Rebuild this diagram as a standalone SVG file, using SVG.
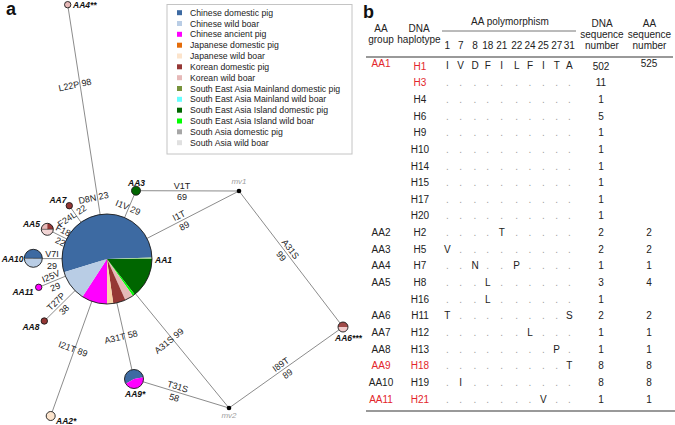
<svg xmlns="http://www.w3.org/2000/svg" width="675" height="425" viewBox="0 0 675 425">
<style>
text{font-family:"Liberation Sans",Arial,sans-serif}
.ml{font-size:9px;fill:#222;text-anchor:middle}
.nl{font-size:8.5px;font-weight:bold;font-style:italic;fill:#111}
.mv{font-size:8px;font-style:italic;fill:#a0a0a0}
.leg{font-size:8.7px;fill:#222}
.tb{font-size:10px;fill:#222;text-anchor:middle}
.red{fill:#E3262B}
.dot{fill:#a0a0a0}
.edge{stroke:#8c8c8c;stroke-width:1;fill:none}
.ol{fill:none;stroke:#1a1a1a;stroke-width:0.9}
.rule{stroke:#777;fill:none}
</style>
<rect width="675" height="425" fill="#fff"/>
<text x="6" y="14.5" style="font-size:18px;font-weight:bold;fill:#111">a</text>
<text x="363" y="18" style="font-size:18px;font-weight:bold;fill:#111">b</text>

<!-- Legend -->
<g id="legend">
<rect x="167" y="4.5" width="185" height="149.5" fill="#fff" stroke="#c4c4c4" stroke-width="1"/>
<rect x="177" y="10.2" width="5" height="5" fill="#3D6AA2"/><text class="leg" x="190" y="15.7">Chinese domestic pig</text>
<rect x="177" y="21" width="5" height="5" fill="#B9CDE5"/><text class="leg" x="190" y="26.5">Chinese wild boar</text>
<rect x="177" y="31.8" width="5" height="5" fill="#FF00FF"/><text class="leg" x="190" y="37.3">Chinese ancient pig</text>
<rect x="177" y="42.7" width="5" height="5" fill="#E46C0A"/><text class="leg" x="190" y="48.2">Japanese domestic pig</text>
<rect x="177" y="53.5" width="5" height="5" fill="#FCE4CC"/><text class="leg" x="190" y="59">Japanese wild boar</text>
<rect x="177" y="64.3" width="5" height="5" fill="#953735"/><text class="leg" x="190" y="69.8">Korean domestic pig</text>
<rect x="177" y="75.2" width="5" height="5" fill="#E6B9B8"/><text class="leg" x="190" y="80.7">Korean wild boar</text>
<rect x="177" y="86" width="5" height="5" fill="#77933C"/><text class="leg" x="190" y="91.5">South East Asia Mainland domestic pig</text>
<rect x="177" y="96.8" width="5" height="5" fill="#66FFFF"/><text class="leg" x="190" y="102.3">South East Asia Mainland wild boar</text>
<rect x="177" y="107.7" width="5" height="5" fill="#006600"/><text class="leg" x="190" y="113.2">South East Asia Island domestic pig</text>
<rect x="177" y="118.5" width="5" height="5" fill="#00FF00"/><text class="leg" x="190" y="124">South East Asia Island wild boar</text>
<rect x="177" y="129.3" width="5" height="5" fill="#A6A6A6"/><text class="leg" x="190" y="134.8">South Asia domestic pig</text>
<rect x="177" y="140.2" width="5" height="5" fill="#E0E0E0"/><text class="leg" x="190" y="145.7">South Asia wild boar</text>
</g>

<!-- Connectors -->
<g id="connectors">
<line class="edge" x1="67.7" y1="4.7" x2="107" y2="259"/>
<line class="edge" x1="69.3" y1="205.7" x2="107" y2="259"/>
<line class="edge" x1="136" y1="190.7" x2="107" y2="259"/>
<line class="edge" x1="136" y1="190.7" x2="239" y2="191"/>
<line class="edge" x1="107" y1="259" x2="239" y2="191"/>
<line class="edge" x1="239" y1="191" x2="343" y2="327"/>
<line class="edge" x1="47.3" y1="229.3" x2="107" y2="259"/>
<line class="edge" x1="33.3" y1="258.6" x2="107" y2="258.6"/>
<line class="edge" x1="38.7" y1="287.3" x2="107" y2="259"/>
<line class="edge" x1="44.3" y1="321" x2="107" y2="259"/>
<line class="edge" x1="50.7" y1="416" x2="107" y2="259"/>
<line class="edge" x1="134" y1="379" x2="107" y2="259"/>
<line class="edge" x1="107" y1="259" x2="229" y2="408"/>
<line class="edge" x1="134" y1="379" x2="229" y2="408"/>
<line class="edge" x1="229" y1="408" x2="343" y2="327"/>
<!-- mutation labels -->
<text class="ml" transform="translate(75,85) rotate(-12)" y="3">L22P 98</text>
<text class="ml" transform="translate(93.5,198) rotate(-12)" y="3">D8N 23</text>
<text class="ml" transform="translate(72,216) rotate(-34)" y="3">F24L 22</text>
<g transform="translate(63,236.5) rotate(26.6)"><text class="ml" y="-2.5">F18L</text><text class="ml" y="9">22</text></g>
<text class="ml" transform="translate(128,207.5) rotate(23)" y="3">I1V 29</text>
<g transform="translate(182,191)"><text class="ml" y="-2.5">V1T</text><text class="ml" y="9">69</text></g>
<g transform="translate(181.5,220.6) rotate(-27.3)"><text class="ml" y="-2.5">I1T</text><text class="ml" y="9">89</text></g>
<g transform="translate(286,252.5) rotate(52.6)"><text class="ml" y="-2.5">A31S</text><text class="ml" y="9">99</text></g>
<g transform="translate(52,258.6)"><text class="ml" y="-2">V7I</text><text class="ml" y="10.5">29</text></g>
<g transform="translate(53,281.4) rotate(-22.5)"><text class="ml" y="-2.5">I25V</text><text class="ml" y="9">29</text></g>
<g transform="translate(60,305.5) rotate(-44.7)"><text class="ml" y="-2.5">T27P</text><text class="ml" y="9">38</text></g>
<text class="ml" transform="translate(73,349) rotate(20)" y="3">I21T 89</text>
<text class="ml" transform="translate(121,337) rotate(-13)" y="3">A31T 58</text>
<text class="ml" transform="translate(169,341) rotate(-39)" y="3">A31S 99</text>
<g transform="translate(176,392) rotate(17)"><text class="ml" y="-2.5">T31S</text><text class="ml" y="9">58</text></g>
<g transform="translate(284,369) rotate(-35.4)"><text class="ml" y="-2.5">I89T</text><text class="ml" y="9">89</text></g>
</g>

<!-- Nodes -->
<g id="AA1">
<path d="M107,259 L63.97,272.16 A45,45 0 1 1 151.97,257.43 Z" fill="#3D6AA2"/>
<path d="M107,259 L151.97,257.43 A45,45 0 0 1 152,259 Z" fill="#9CD08C"/>
<path d="M107,259 L152,259 A45,45 0 0 1 134.71,294.46 Z" fill="#006600"/>
<path d="M107,259 L134.71,294.46 A45,45 0 0 1 132.81,295.86 Z" fill="#00FF00"/>
<path d="M107,259 L132.81,295.86 A45,45 0 0 1 125.30,300.11 Z" fill="#E6B9B8"/>
<path d="M107,259 L125.30,300.11 A45,45 0 0 1 113.26,303.56 Z" fill="#953735"/>
<path d="M107,259 L113.26,303.56 A45,45 0 0 1 107,304 Z" fill="#F9D3A8"/>
<path d="M107,259 L107,304 A45,45 0 0 1 82.49,296.74 Z" fill="#FF00FF"/>
<path d="M107,259 L82.49,296.74 A45,45 0 0 1 63.97,272.16 Z" fill="#B9CDE5"/>
<circle class="ol" cx="107" cy="259" r="45"/>
<text class="nl" x="155" y="263">AA1</text>
</g>
<g id="AA2">
<circle cx="50.7" cy="416" r="4.5" fill="#FCE4CC" stroke="#1a1a1a" stroke-width="0.9"/>
<text class="nl" x="56" y="424">AA2*</text>
</g>
<g id="AA3">
<circle cx="136" cy="190.7" r="4.5" fill="#006600" stroke="#1a1a1a" stroke-width="0.9"/>
<text class="nl" x="128" y="185.5">AA3</text>
</g>
<g id="AA4">
<circle cx="67.7" cy="4.7" r="3.2" fill="#E6B9B8" stroke="#1a1a1a" stroke-width="0.9"/>
<text class="nl" x="73" y="8">AA4**</text>
</g>
<g id="AA5">
<path d="M47.3,229.3 L41.3,229.3 A6,6 0 0 1 47.3,223.3 Z" fill="#E6B9B8"/>
<path d="M47.3,229.3 L47.3,223.3 A6,6 0 0 1 53.3,229.3 Z" fill="#953735"/>
<path d="M53.3,229.3 A6,6 0 0 1 41.3,229.3 Z" fill="#F2D5D5"/>
<line x1="41.3" y1="229.3" x2="53.3" y2="229.3" stroke="#1a1a1a" stroke-width="0.6"/>
<circle class="ol" cx="47.3" cy="229.3" r="6"/>
<text class="nl" x="40" y="227" text-anchor="end">AA5</text>
</g>
<g id="AA6">
<path d="M338,327 A5,5 0 0 1 348,327 Z" fill="#A04A48"/>
<path d="M348,327 A5,5 0 0 1 338,327 Z" fill="#F0CACA"/>
<circle class="ol" cx="343" cy="327" r="5"/>
<text class="nl" x="335" y="341">AA6***</text>
</g>
<g id="AA7">
<circle cx="69.3" cy="205.7" r="3.2" fill="#953735" stroke="#1a1a1a" stroke-width="0.9"/>
<text class="nl" x="66.5" y="203" text-anchor="end">AA7</text>
</g>
<g id="AA8">
<circle cx="44.3" cy="321" r="3.2" fill="#953735" stroke="#1a1a1a" stroke-width="0.9"/>
<text class="nl" x="39.5" y="330" text-anchor="end">AA8</text>
</g>
<g id="AA9">
<path d="M134,379 L125.77,383.75 A9.5,9.5 0 1 1 143.36,377.35 Z" fill="#3D6AA2"/>
<path d="M134,379 L143.36,377.35 A9.5,9.5 0 0 1 125.77,383.75 Z" fill="#FF00FF"/>
<circle class="ol" cx="134" cy="379" r="9.5"/>
<text class="nl" x="125" y="396.5">AA9*</text>
</g>
<g id="AA10">
<path d="M24.3,258.3 A9,9 0 0 1 42.3,258.3 Z" fill="#3D6AA2"/>
<path d="M42.3,258.3 A9,9 0 0 1 24.3,258.3 Z" fill="#B9CDE5"/>
<line x1="24.3" y1="258.3" x2="42.3" y2="258.3" stroke="#1a1a1a" stroke-width="0.6"/>
<circle class="ol" cx="33.3" cy="258.3" r="9"/>
<text class="nl" x="23.5" y="262" text-anchor="end">AA10</text>
</g>
<g id="AA11">
<circle cx="38.7" cy="287.3" r="3.2" fill="#FF00FF" stroke="#1a1a1a" stroke-width="0.9"/>
<text class="nl" x="33.5" y="295" text-anchor="end">AA11</text>
</g>
<g id="mv1">
<circle cx="239" cy="191" r="2.3" fill="#000"/>
<text class="mv" x="239" y="184" text-anchor="middle">mv1</text>
</g>
<g id="mv2">
<circle cx="229" cy="408" r="2.3" fill="#000"/>
<text class="mv" x="229" y="418" text-anchor="middle">mv2</text>
</g>

<!-- Table -->
<g id="table">
<line class="rule" x1="442" y1="31" x2="576" y2="31" stroke-width="1"/>
<line class="rule" x1="366" y1="57" x2="673" y2="57" stroke-width="1.3"/>
<line class="rule" x1="366" y1="411" x2="675" y2="411" stroke-width="1.5" stroke="#888"/>
<text class="tb" x="381" y="31.5">AA</text><text class="tb" x="381" y="42.5">group</text>
<text class="tb" x="419" y="31.5">DNA</text><text class="tb" x="419" y="42.5">haplotype</text>
<text class="tb" x="510" y="24.5">AA polymorphism</text>
<text class="tb" x="447.3" y="49">1</text><text class="tb" x="460.7" y="49">7</text><text class="tb" x="475" y="49">8</text><text class="tb" x="487.7" y="49">18</text><text class="tb" x="501.7" y="49">21</text><text class="tb" x="516.7" y="49">22</text><text class="tb" x="530" y="49">24</text><text class="tb" x="543.3" y="49">25</text><text class="tb" x="556.7" y="49">27</text><text class="tb" x="569.3" y="49">31</text>
<text class="tb" x="602" y="26.5">DNA</text><text class="tb" x="602" y="38">sequence</text><text class="tb" x="602" y="49">number</text>
<text class="tb" x="649.5" y="26.5">AA</text><text class="tb" x="649.5" y="38">sequence</text><text class="tb" x="649.5" y="49">number</text>

<!-- row 0 -->
<text class="tb red" x="381" y="66.7">AA1</text><text class="tb red" x="420" y="69.6">H1</text>
<text class="tb" x="447.3 460.7 475 487.7 501.7 516.7 530 543.3 556.7 569.3" y="69">IVDFILFITA</text>
<text class="tb" x="601" y="70">502</text><text class="tb" x="649" y="66.7">525</text>
<!-- rows 1-9 -->
<text class="tb red" x="420" y="86.2">H3</text><text class="tb dot" x="447.3 460.7 475 487.7 501.7 516.7 530 543.3 556.7 569.3" y="86.2">..........</text><text class="tb" x="601" y="86.2">11</text>
<text class="tb" x="420" y="102.9">H4</text><text class="tb dot" x="447.3 460.7 475 487.7 501.7 516.7 530 543.3 556.7 569.3" y="102.9">..........</text><text class="tb" x="601" y="102.9">1</text>
<text class="tb" x="420" y="119.5">H6</text><text class="tb dot" x="447.3 460.7 475 487.7 501.7 516.7 530 543.3 556.7 569.3" y="119.5">..........</text><text class="tb" x="601" y="119.5">5</text>
<text class="tb" x="420" y="136.2">H9</text><text class="tb dot" x="447.3 460.7 475 487.7 501.7 516.7 530 543.3 556.7 569.3" y="136.2">..........</text><text class="tb" x="601" y="136.2">1</text>
<text class="tb" x="420" y="152.8">H10</text><text class="tb dot" x="447.3 460.7 475 487.7 501.7 516.7 530 543.3 556.7 569.3" y="152.8">..........</text><text class="tb" x="601" y="152.8">1</text>
<text class="tb" x="420" y="169.5">H14</text><text class="tb dot" x="447.3 460.7 475 487.7 501.7 516.7 530 543.3 556.7 569.3" y="169.5">..........</text><text class="tb" x="601" y="169.5">1</text>
<text class="tb" x="420" y="186.1">H15</text><text class="tb dot" x="447.3 460.7 475 487.7 501.7 516.7 530 543.3 556.7 569.3" y="186.1">..........</text><text class="tb" x="601" y="186.1">1</text>
<text class="tb" x="420" y="202.8">H17</text><text class="tb dot" x="447.3 460.7 475 487.7 501.7 516.7 530 543.3 556.7 569.3" y="202.8">..........</text><text class="tb" x="601" y="202.8">1</text>
<text class="tb" x="420" y="219.4">H20</text><text class="tb dot" x="447.3 460.7 475 487.7 501.7 516.7 530 543.3 556.7 569.3" y="219.4">..........</text><text class="tb" x="601" y="219.4">1</text>
<!-- row 10 AA2 -->
<text class="tb" x="381" y="236.1">AA2</text><text class="tb" x="420" y="236.1">H2</text>
<text class="tb dot" x="447.3 460.7 475 487.7" y="236.1">....</text><text class="tb" x="501.7" y="236.1">T</text><text class="tb dot" x="516.7 530 543.3 556.7 569.3" y="236.1">.....</text>
<text class="tb" x="601" y="236.1">2</text><text class="tb" x="649" y="236.1">2</text>
<!-- row 11 AA3 -->
<text class="tb" x="381" y="252.7">AA3</text><text class="tb" x="420" y="252.7">H5</text>
<text class="tb" x="447.3" y="252.7">V</text><text class="tb dot" x="460.7 475 487.7 501.7 516.7 530 543.3 556.7 569.3" y="252.7">.........</text>
<text class="tb" x="601" y="252.7">2</text><text class="tb" x="649" y="252.7">2</text>
<!-- row 12 AA4 -->
<text class="tb" x="381" y="269.4">AA4</text><text class="tb" x="420" y="269.4">H7</text>
<text class="tb dot" x="447.3 460.7" y="269.4">..</text><text class="tb" x="475" y="269.4">N</text><text class="tb dot" x="487.7 501.7" y="269.4">..</text><text class="tb" x="516.7" y="269.4">P</text><text class="tb dot" x="530 543.3 556.7 569.3" y="269.4">....</text>
<text class="tb" x="601" y="269.4">1</text><text class="tb" x="649" y="269.4">1</text>
<!-- row 13 AA5 -->
<text class="tb" x="381" y="286">AA5</text><text class="tb" x="420" y="286">H8</text>
<text class="tb dot" x="447.3 460.7 475" y="286">...</text><text class="tb" x="487.7" y="286">L</text><text class="tb dot" x="501.7 516.7 530 543.3 556.7 569.3" y="286">......</text>
<text class="tb" x="601" y="286">3</text><text class="tb" x="649" y="286">4</text>
<!-- row 14 -->
<text class="tb" x="420" y="302.7">H16</text>
<text class="tb dot" x="447.3 460.7 475" y="302.7">...</text><text class="tb" x="487.7" y="302.7">L</text><text class="tb dot" x="501.7 516.7 530 543.3 556.7 569.3" y="302.7">......</text>
<text class="tb" x="601" y="302.7">1</text>
<!-- row 15 AA6 -->
<text class="tb" x="381" y="319.3">AA6</text><text class="tb" x="420" y="319.3">H11</text>
<text class="tb" x="447.3" y="319.3">T</text><text class="tb dot" x="460.7 475 487.7 501.7 516.7 530 543.3 556.7" y="319.3">........</text><text class="tb" x="569.3" y="319.3">S</text>
<text class="tb" x="601" y="319.3">2</text><text class="tb" x="649" y="319.3">2</text>
<!-- row 16 AA7 -->
<text class="tb" x="381" y="336">AA7</text><text class="tb" x="420" y="336">H12</text>
<text class="tb dot" x="447.3 460.7 475 487.7 501.7 516.7" y="336">......</text><text class="tb" x="530" y="336">L</text><text class="tb dot" x="543.3 556.7 569.3" y="336">...</text>
<text class="tb" x="601" y="336">1</text><text class="tb" x="649" y="336">1</text>
<!-- row 17 AA8 -->
<text class="tb" x="381" y="352.6">AA8</text><text class="tb" x="420" y="352.6">H13</text>
<text class="tb dot" x="447.3 460.7 475 487.7 501.7 516.7 530 543.3" y="352.6">........</text><text class="tb" x="556.7" y="352.6">P</text><text class="tb dot" x="569.3" y="352.6">.</text>
<text class="tb" x="601" y="352.6">1</text><text class="tb" x="649" y="352.6">1</text>
<!-- row 18 AA9 -->
<text class="tb red" x="381" y="369.3">AA9</text><text class="tb red" x="420" y="369.3">H18</text>
<text class="tb dot" x="447.3 460.7 475 487.7 501.7 516.7 530 543.3 556.7" y="369.3">.........</text><text class="tb" x="569.3" y="369.3">T</text>
<text class="tb" x="601" y="369.3">8</text><text class="tb" x="649" y="369.3">8</text>
<!-- row 19 AA10 -->
<text class="tb" x="381" y="385.9">AA10</text><text class="tb" x="420" y="385.9">H19</text>
<text class="tb dot" x="447.3" y="385.9">.</text><text class="tb" x="460.7" y="385.9">I</text><text class="tb dot" x="475 487.7 501.7 516.7 530 543.3 556.7 569.3" y="385.9">........</text>
<text class="tb" x="601" y="385.9">8</text><text class="tb" x="649" y="385.9">8</text>
<!-- row 20 AA11 -->
<text class="tb red" x="381" y="402.6">AA11</text><text class="tb red" x="420" y="402.6">H21</text>
<text class="tb dot" x="447.3 460.7 475 487.7 501.7 516.7 530" y="402.6">.......</text><text class="tb" x="543.3" y="402.6">V</text><text class="tb dot" x="556.7 569.3" y="402.6">..</text>
<text class="tb" x="601" y="402.6">1</text><text class="tb" x="649" y="402.6">1</text>
</g>
</svg>
